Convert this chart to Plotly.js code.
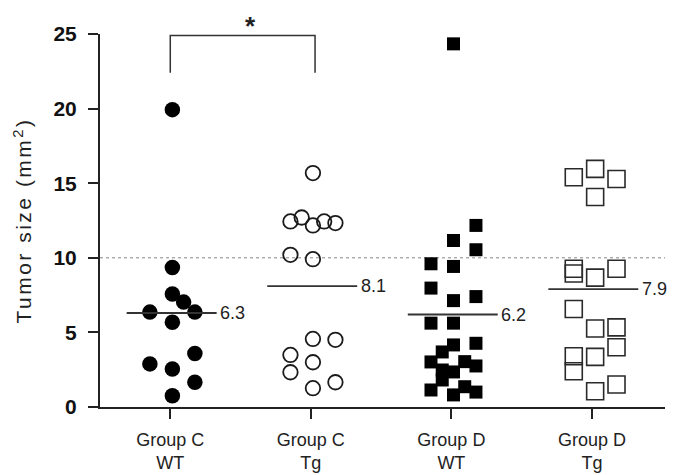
<!DOCTYPE html>
<html>
<head>
<meta charset="utf-8">
<script src="https://cdn.plot.ly/plotly-3.0.1.min.js"></script>
<style>html,body{margin:0;padding:0;background:#fff;}#chart{width:677px;height:475px;}</style>
</head>
<body>
<div id="chart"></div>
<script>
// Category labels
var groups = ['Group C<br>WT', 'Group C<br>Tg', 'Group D<br>WT', 'Group D<br>Tg'];
var yTicks = [0, 5, 10, 15, 20, 25];

// Tumor sizes (mm²) and jitter column per point
var cWT = [19.93, 9.35, 7.58, 7.03, 6.36, 6.36, 5.68, 3.58, 2.89, 2.55, 1.66, 0.76];
var cWTcol = [0, 0, 0, 1, -2, 2, 0, 2, -2, 0, 2, 0];

var cTg = [15.68, 12.70, 12.44, 12.44, 12.33, 12.17, 10.20, 9.91, 4.56, 4.50, 3.49, 3.00, 2.33, 1.66, 1.26];
var cTgcol = [0, -1, -2, 1, 2, 0, -2, 0, 0, 2, -2, 0, -2, 2, 0];

var dWT = [24.34, 12.17, 11.16, 10.54, 9.60, 9.42, 7.97, 7.40, 7.13, 5.62, 5.62,
           4.16, 4.27, 3.69, 3.02, 3.04, 2.75, 2.48, 2.35, 1.81, 1.36, 1.14, 0.81, 1.00];
var dWTcol = [0, 2, 0, 2, -2, 0, -2, 2, 0, -2, 0,
              0, 2, -1, -2, 1, 2, -1, 0, -1, 1, -2, 0, 2];

var dTg = [15.40, 15.96, 15.28, 14.08, 9.27, 8.95, 8.67, 9.27, 6.57, 5.26, 5.34, 4.00, 3.40, 2.40, 3.36, 1.06, 1.51];
var dTgcol = [-1.8, 0.1, 2, 0.1, -1.8, -1.8, 0.1, 2, -1.8, 0.1, 2, 2, -1.8, -1.8, 0.1, 0.1, 2];

// Group medians shown on chart
var medians = [6.3, 8.1, 6.2, 7.9];
var medianLabels = ['6.3', '8.1', '6.2', '7.9'];

// Reference threshold and significance
var threshold = 10;
var sigPair = [0, 1];
var sigLabel = '*';

var colW = 0.08, colShift = 0.015;
function xs(g, cols) { return cols.map(function (c) { return g + colShift + c * colW; }); }

var FONT = 'Liberation Sans, Arial, sans-serif';
var traces = [];
traces.push({x: xs(0, cWTcol), y: cWT, type: 'scatter', mode: 'markers', cliponaxis: false,
  marker: {symbol: 'circle', size: 15.5, color: '#000'}, hoverinfo: 'y'});
traces.push({x: xs(1, cTgcol), y: cTg, type: 'scatter', mode: 'markers', cliponaxis: false,
  marker: {symbol: 'circle-open', size: 14.5, color: '#1a1a1a', line: {width: 1.8, color: '#1a1a1a'}}, hoverinfo: 'y'});
traces.push({x: xs(2, dWTcol), y: dWT, type: 'scatter', mode: 'markers', cliponaxis: false,
  marker: {symbol: 'square', size: 13, color: '#000'}, hoverinfo: 'y'});
traces.push({x: xs(3, dTgcol), y: dTg, type: 'scatter', mode: 'markers', cliponaxis: false,
  marker: {symbol: 'square-open', size: 17, color: '#2a2a2a', line: {width: 1.6, color: '#2a2a2a'}}, hoverinfo: 'y'});

// median lines
var mx = [], my = [];
medians.forEach(function (m, i) { mx.push(i - 0.31, i + 0.33, null); my.push(m, m, null); });
traces.push({x: mx, y: my, type: 'scatter', mode: 'lines', line: {color: '#333', width: 1.8}, hoverinfo: 'skip'});

// significance bracket
traces.push({x: [sigPair[0], sigPair[0], sigPair[1] + 0.03, sigPair[1] + 0.03], y: [22.4, 24.9, 24.9, 22.4],
  type: 'scatter', mode: 'lines', cliponaxis: false, line: {color: '#333', width: 1.5}, hoverinfo: 'skip'});

var annotations = medians.map(function (m, i) {
  return {x: i + 0.34, y: m, xref: 'x', yref: 'y', text: medianLabels[i], showarrow: false,
    xanchor: 'left', yanchor: 'middle', font: {family: FONT, size: 18, color: '#222'}};
});
annotations.push({x: 0.57, y: 24.9, xref: 'x', yref: 'y', text: sigLabel, showarrow: false,
  xanchor: 'center', yanchor: 'bottom', yshift: -8, font: {family: FONT, size: 26, color: '#222', weight: 'bold'}});
annotations.push({x: -0.138, y: 0.5, xref: 'paper', yref: 'paper',
  text: '<span style="letter-spacing:2.5px">Tumor size (mm<sup>2</sup>)</span>',
  textangle: -90, showarrow: false, xanchor: 'center', yanchor: 'middle',
  font: {family: FONT, size: 21, color: '#222'}});

var layout = {
  width: 677, height: 475,
  margin: {l: 100, r: 12, t: 34, b: 68},
  paper_bgcolor: '#fff', plot_bgcolor: '#fff',
  showlegend: false,
  font: {family: FONT, color: '#222'},
  xaxis: {range: [-0.5, 3.52], tickmode: 'array', tickvals: [0, 1, 2, 3], ticktext: groups,
    showline: true, linecolor: '#222', linewidth: 2, ticks: 'outside', ticklen: 10, tickwidth: 2, tickcolor: '#222',
    showgrid: false, zeroline: false, ticklabelstandoff: 5, tickfont: {size: 18, color: '#222'}, fixedrange: true},
  yaxis: {range: [0, 25], tickmode: 'array', tickvals: yTicks, ticktext: yTicks.map(String),
    showline: true, linecolor: '#222', linewidth: 2, ticks: 'outside', ticklen: 10, tickwidth: 2, tickcolor: '#222',
    showgrid: false, zeroline: false, ticklabelstandoff: 7,
    tickfont: {size: 21, color: '#111', weight: 'bold'}, fixedrange: true},
  shapes: [{type: 'line', xref: 'paper', yref: 'y', x0: 0, x1: 1, y0: threshold, y1: threshold,
    layer: 'below', line: {color: '#888', width: 1, dash: 'dot'}}],
  annotations: annotations
};

Plotly.newPlot('chart', traces, layout, {displayModeBar: false, staticPlot: true});
</script>
</body>
</html>
